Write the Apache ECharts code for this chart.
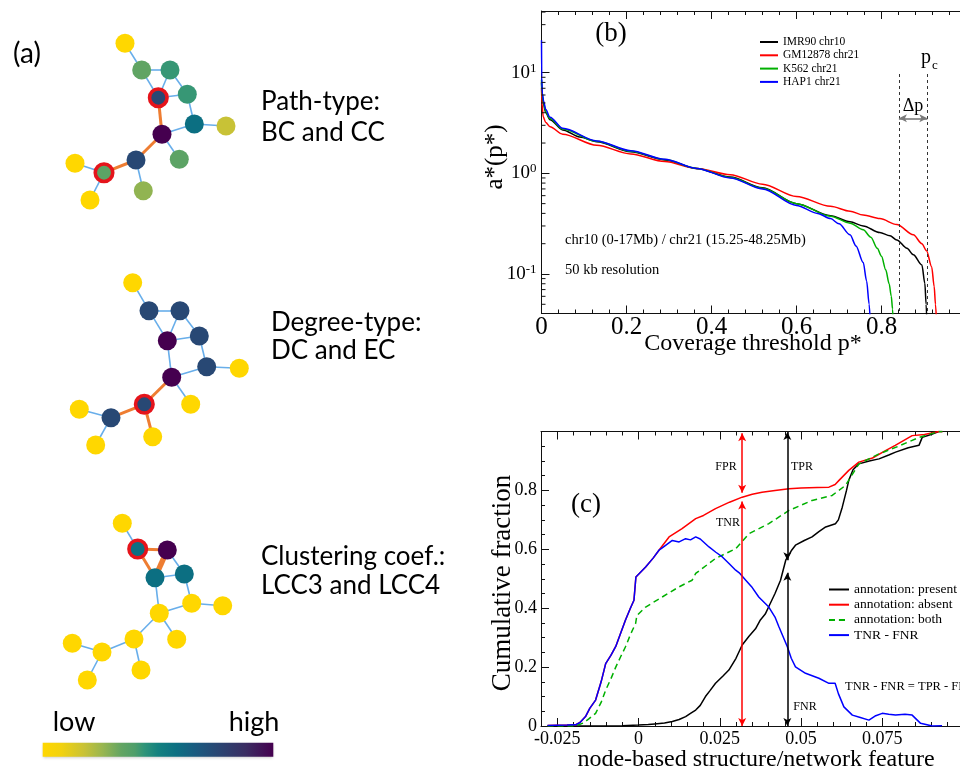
<!DOCTYPE html>
<html><head><meta charset="utf-8">
<script src="https://cdn.jsdelivr.net/npm/echarts@6/dist/echarts.min.js"></script>
<style>html,body{margin:0;padding:0;background:#fff}#c{width:960px;height:772px}</style>
</head><body><div id="c"></div>
<script>
// ---------- colour map (low -> high) ----------
const cmapStops  = [0, 0.08, 0.18, 0.26, 0.34, 0.40, 0.44, 0.50, 0.58, 0.66, 0.75, 0.88, 1];
const cmapColors = ['#FFD700','#F2D20E','#C8C236','#98B650','#63A562','#4E9E6A','#2F9478','#13817F','#0C6F82','#195B80','#284874','#3A2D62','#45004F'];

// ---------- panel (a): network (shared topology) ----------
const netEdges = [[0,1],[1,2],[1,3],[2,3],[2,4],[3,4],[4,5],[5,6],[3,7],[7,5],[7,8],[7,9],[9,10],[9,13],[10,11],[10,12]];
const pathX = [125,141.7,170,158.3,187.3,194.3,226,162,179.3,136,104,75,90,143.3];
const pathY = [43.3,70,70,97.7,94.3,124,126,134.3,159.3,160,172.7,163.3,200,190.7];
const pathVal = [0,0.35,0.43,0.75,0.43,0.58,0.18,1,0.36,0.75,0.36,0,0,0.27];
const pathRing = [3,10];
const pathHot = [[3,7],[7,9],[9,10]];
const degX = [132.7,149,180,167.3,199.3,206.7,239.3,171.7,190.7,144.3,111,79.3,95.7,152.7];
const degY = [282.7,310.7,310.7,340.7,336,366.7,368.3,377.3,404.3,404.3,417.7,409.3,445,436.7];
const degVal = [0,0.75,0.75,1,0.75,0.75,0,1,0,0.75,0.75,0,0,0];
const degRing = [9];
const degHot = [[7,9],[9,10],[9,13]];
const cluX = [122.3,137.7,167.3,155,184.3,191.7,222.7,159.3,176.7,134,102,72.3,87.3,141];
const cluY = [523.3,549,550,577.7,574,603.3,605.7,613.3,639.3,639,652,643.3,680,670];
const cluVal = [0,0.58,1,0.58,0.58,0,0,0,0,0,0,0,0,0];
const cluRing = [1];
const cluHot = [[1,2],[1,3],[2,3]];
const cluHotWide = [[2,3]];

// ---------- panel (b): a*(p*) vs coverage threshold ----------
const imrP = [0,0.001,0.004,0.01,0.02,0.05,0.09,0.13,0.21,0.29,0.365,0.444,0.52,0.6,0.68,0.726,0.757,0.796,0.82,0.836,0.86,0.875,0.895,0.902,0.905,0.907];
const imrA = [8.0,6.0,5.0,4.0,3.4,2.7,2.3,2.06,1.64,1.36,1.12,0.92,0.72,0.5,0.38,0.33,0.30,0.258,0.24,0.218,0.18,0.155,0.123,0.081,0.05,0.03];
const gmP  = [0,0.001,0.004,0.01,0.02,0.05,0.13,0.21,0.29,0.365,0.444,0.52,0.6,0.68,0.726,0.757,0.796,0.836,0.875,0.895,0.906,0.918,0.924,0.927,0.93];
const gmA  = [7.0,5.0,3.65,3.2,2.9,2.45,1.9,1.56,1.31,1.12,0.97,0.78,0.59,0.47,0.42,0.385,0.355,0.31,0.245,0.2,0.17,0.118,0.075,0.05,0.03];
const kP   = [0,0.001,0.004,0.01,0.02,0.05,0.13,0.21,0.29,0.365,0.444,0.52,0.6,0.68,0.726,0.757,0.775,0.79,0.80,0.81,0.818,0.823,0.826,0.828];
const kA   = [8.5,6.5,5.2,4.1,3.5,2.75,2.08,1.66,1.37,1.12,0.91,0.71,0.5,0.375,0.32,0.275,0.232,0.18,0.15,0.11,0.08,0.06,0.045,0.03];
const hapP = [0,0.0005,0.002,0.005,0.01,0.02,0.05,0.13,0.21,0.29,0.365,0.444,0.52,0.6,0.65,0.68,0.70,0.726,0.74,0.757,0.765,0.771,0.774];
const hapA = [21,9,6.2,5.2,4.3,3.6,2.8,2.1,1.68,1.38,1.12,0.9,0.7,0.48,0.40,0.355,0.315,0.245,0.19,0.13,0.085,0.05,0.03];
const bNames = ['IMR90 chr10','GM12878 chr21','K562 chr21','HAP1 chr21'];
const bMinorY = [0.05,0.06,0.07,0.08,0.09,0.2,0.3,0.4,0.5,0.6,0.7,0.8,0.9,2,3,4,5,6,7,8,9,20,30,40];
const dashX = [0.841, 0.9078];
const dashTop = 9.7;
const deltaY = 3.52;

// ---------- panel (c): cumulative fractions ----------
const presX = [-0.028,-0.02,-0.01,-0.005,0,0.003,0.005,0.008,0.0104,0.0125,0.0145,0.016,0.0176,0.019,0.0206,0.022,0.0237,0.026,0.0278,0.03,0.0319,0.034,0.036,0.0375,0.039,0.0405,0.042,0.0437,0.0453,0.047,0.0483,0.051,0.0534,0.0555,0.0576,0.0606,0.0615,0.0627,0.064,0.0647,0.066,0.0678,0.071,0.074,0.077,0.0791,0.083,0.0863,0.0873,0.09,0.0924,0.0935];
const presY = [0,0,0,0.001,0.003,0.005,0.007,0.01,0.015,0.022,0.032,0.043,0.054,0.07,0.10,0.12,0.145,0.17,0.19,0.23,0.275,0.305,0.33,0.36,0.38,0.415,0.45,0.495,0.563,0.595,0.614,0.63,0.642,0.66,0.676,0.687,0.70,0.743,0.80,0.834,0.87,0.89,0.90,0.907,0.92,0.93,0.945,0.953,0.98,0.99,1.0,1.0];
const absX = [-0.028,-0.022,-0.0194,-0.018,-0.0163,-0.015,-0.0132,-0.0115,-0.0101,-0.0085,-0.007,-0.0055,-0.004,-0.0025,-0.0014,-0.0009,-0.0008,0.0022,0.0045,0.0063,0.0094,0.0134,0.0176,0.02,0.0237,0.028,0.0319,0.035,0.038,0.042,0.0463,0.05,0.055,0.0586,0.0605,0.0617,0.0647,0.0678,0.072,0.076,0.079,0.0842,0.088,0.0924,0.0935];
const absY = [0.002,0.003,0.004,0.012,0.032,0.06,0.088,0.15,0.212,0.24,0.27,0.315,0.36,0.40,0.427,0.43,0.506,0.54,0.57,0.597,0.642,0.67,0.704,0.715,0.738,0.76,0.777,0.787,0.794,0.80,0.806,0.808,0.81,0.811,0.82,0.834,0.868,0.896,0.91,0.935,0.953,0.986,0.99,1.0,1.0];
const bothX = [-0.028,-0.0194,-0.017,-0.0152,-0.0132,-0.0115,-0.0101,-0.0085,-0.007,-0.0055,-0.004,-0.0025,-0.0009,-0.0005,0.0022,0.0073,0.0124,0.0165,0.0176,0.0237,0.0299,0.034,0.0401,0.0463,0.0534,0.0596,0.0637,0.0678,0.074,0.08,0.0863,0.0924,0.0935];
const bothY = [0,0,0.01,0.025,0.043,0.08,0.122,0.16,0.2,0.235,0.269,0.31,0.348,0.375,0.404,0.438,0.472,0.495,0.518,0.569,0.602,0.653,0.687,0.732,0.766,0.783,0.817,0.89,0.924,0.95,0.98,1.0,1.0];
const diffX = [-0.028,-0.022,-0.0194,-0.018,-0.0163,-0.015,-0.0132,-0.0115,-0.0101,-0.0085,-0.007,-0.0055,-0.004,-0.0025,-0.0014,-0.0009,-0.0008,0.0022,0.0045,0.0063,0.0073,0.0104,0.0125,0.0145,0.016,0.0176,0.019,0.0217,0.0238,0.0258,0.028,0.0299,0.031,0.033,0.035,0.037,0.038,0.0401,0.042,0.0432,0.0458,0.047,0.0483,0.0514,0.0555,0.0586,0.0605,0.0615,0.0632,0.0658,0.068,0.0709,0.073,0.075,0.077,0.0791,0.082,0.0842,0.0868,0.0904,0.0934];
const diffY = [0.002,0.003,0.004,0.012,0.032,0.06,0.088,0.15,0.212,0.24,0.27,0.315,0.36,0.40,0.427,0.43,0.506,0.54,0.57,0.597,0.605,0.63,0.625,0.636,0.632,0.642,0.635,0.608,0.59,0.574,0.55,0.529,0.52,0.495,0.47,0.438,0.427,0.404,0.37,0.337,0.269,0.23,0.201,0.179,0.162,0.145,0.145,0.11,0.065,0.037,0.03,0.02,0.035,0.043,0.04,0.037,0.04,0.037,0.009,0.0,0.001];
const cNames = ['annotation: present','annotation: absent','annotation: both','TNR - FNR'];
const cMajorX = [-0.025,0,0.025,0.05,0.075];
const fprX = 0.0319, fprSeg = [[0.994,0.792],[0.762,0.0]];
const tprX = 0.0458, tprSeg = [[0.998,0.563],[0.52,0.0]];

// ---------- helpers ----------
function hex2rgb(h){return [parseInt(h.substr(1,2),16),parseInt(h.substr(3,2),16),parseInt(h.substr(5,2),16)];}
function cmap(t){
  for(let i=0;i<cmapStops.length-1;i++){
    if(t<=cmapStops[i+1]){
      const f=(t-cmapStops[i])/(cmapStops[i+1]-cmapStops[i]);
      const a=hex2rgb(cmapColors[i]), b=hex2rgb(cmapColors[i+1]);
      return 'rgb('+a.map((v,k)=>Math.round(v+(b[k]-v)*f)).join(',')+')';
    }
  }
  return cmapColors[cmapColors.length-1];
}
const has=(list,a,b)=>list.some(e=>(e[0]===a&&e[1]===b)||(e[0]===b&&e[1]===a));
function netSeries(xs,ys,vals,ring,hot,wide){
  return {
    type:'graph', coordinateSystem:'cartesian2d', xAxisIndex:0, yAxisIndex:0,
    symbol:'circle', silent:true, animation:false, roam:false,
    label:{show:false}, emphasis:{disabled:true},
    data: xs.map((x,i)=>({value:[x,ys[i]], symbolSize: ring.includes(i)?17.5:19,
      itemStyle:{color:cmap(vals[i]), borderColor: ring.includes(i)?'#E5141B':'rgba(0,0,0,0)', borderWidth: ring.includes(i)?3.6:0}})),
    links: netEdges.map(([a,b])=>{const h=has(hot,a,b), w=has(wide||[],a,b);
      return {source:a,target:b,lineStyle:{color:h?'#EE7D32':'#68AEEA',width:w?5.5:(h?3:1.6),opacity:1,curveness:0}};})
  };
}
const zip=(xs,ys)=>xs.map((x,i)=>[x,ys[i]]);
const SERIF='"Liberation Serif", "Times New Roman", serif';
const SANS='Lato, "Open Sans", sans-serif';
const tickCol='#111';

function txt(x,y,text,font,align,extra){
  return Object.assign({type:'text',x:x,y:y,silent:true,z:100,style:{text:text,font:font,fill:'#000',
    align:align||'left',verticalAlign:'middle',textAlign:align||'left',textVerticalAlign:'middle'}},extra||{});
}

const chart = echarts.init(document.getElementById('c'), null, {renderer:'canvas'});

const baseX = (extra)=>Object.assign({
  type:'value', axisLine:{show:true,onZero:false,lineStyle:{color:tickCol,width:1}},
  axisTick:{show:true,inside:true,length:8,lineStyle:{color:tickCol}},
  splitLine:{show:false}, axisLabel:{show:false}
}, extra);

const option = {
  animation:false,
  backgroundColor:'#fff',
  grid:[
    {left:0, top:0, width:300, height:772, outerBoundsMode:'none'},
    {left:541.5, top:11, width:425, height:302.5, outerBoundsMode:'none'},
    {left:541, top:431.5, width:422.5, height:294.5, outerBoundsMode:'none'}
  ],
  xAxis:[
    {gridIndex:0, type:'value', min:0, max:300, show:false},
    baseX({gridIndex:1, position:'bottom', min:0, max:1, interval:0.2,
      minorTick:{show:true, splitNumber:5, length:4, lineStyle:{color:tickCol}},
      axisLabel:{show:true, margin:1, showMaxLabel:false, fontFamily:SERIF, fontSize:25, color:'#000'}}),
    baseX({gridIndex:1, position:'top', min:0, max:1, interval:0.2,
      minorTick:{show:true, splitNumber:5, length:4, lineStyle:{color:tickCol}}}),
    baseX({gridIndex:2, position:'bottom', min:-0.03, max:0.1, interval:0.005,
      axisTick:{show:true,inside:true,length:4,lineStyle:{color:tickCol}},
      axisLabel:{show:true, margin:4, fontFamily:SERIF, fontSize:18, color:'#000',
        formatter:function(v){const k=v/0.025; if(Math.abs(k-Math.round(k))>1e-6||v>0.09) return ''; return String(+(Math.round(k)*0.025).toFixed(3));}}}),
    baseX({gridIndex:2, position:'bottom', min:-0.03, max:0.1, axisLine:{show:false,onZero:false},
      axisTick:{show:true,inside:true,length:8,customValues:cMajorX,lineStyle:{color:tickCol}}}),
    baseX({gridIndex:2, position:'top', min:-0.03, max:0.1, interval:0.005,
      axisTick:{show:true,inside:true,length:4,lineStyle:{color:tickCol}}}),
    baseX({gridIndex:2, position:'top', min:-0.03, max:0.1, axisLine:{show:false,onZero:false},
      axisTick:{show:true,inside:true,length:8,customValues:cMajorX,lineStyle:{color:tickCol}}})
  ],
  yAxis:[
    {gridIndex:0, type:'value', min:0, max:772, inverse:true, show:false},
    {gridIndex:1, type:'log', logBase:10, min:0.0405, max:41, position:'left',
      axisLine:{show:true,onZero:false,lineStyle:{color:tickCol}},
      axisTick:{show:true,inside:true,length:8,lineStyle:{color:tickCol}},
      splitLine:{show:false},
      axisLabel:{show:true, margin:5, fontFamily:SERIF, fontSize:19, color:'#000',
        formatter:function(v){const l=Math.log10(v), e=Math.round(l); if(Math.abs(l-e)>1e-6) return ''; return '10{s|'+e+'}';},
        rich:{s:{fontFamily:SERIF,fontSize:13,color:'#000',verticalAlign:'top',padding:[0,0,9,0]}}}},
    {gridIndex:2, type:'value', min:0, max:1, interval:0.2, position:'left',
      axisLine:{show:true,onZero:false,lineStyle:{color:tickCol}},
      axisTick:{show:true,inside:true,length:8,lineStyle:{color:tickCol}},
      minorTick:{show:true,splitNumber:4,length:4,lineStyle:{color:tickCol}},
      splitLine:{show:false},
      axisLabel:{show:true, margin:4, showMaxLabel:false, fontFamily:SERIF, fontSize:18, color:'#000'}}
  ],
  legend:[
    {data:bNames, orient:'vertical', left:759, top:36, itemWidth:18, itemHeight:1, itemGap:1.3, padding:0,
      selectedMode:false, textStyle:{fontFamily:SERIF, fontSize:11.5, color:'#000'}},
    {data:cNames, orient:'vertical', left:828, top:582.5, itemWidth:20, itemHeight:1, itemGap:1.2, padding:0,
      selectedMode:false, textStyle:{fontFamily:SERIF, fontSize:13.5, color:'#000'}}
  ],
  series:[
    netSeries(pathX,pathY,pathVal,pathRing,pathHot),
    netSeries(degX,degY,degVal,degRing,degHot),
    netSeries(cluX,cluY,cluVal,cluRing,cluHot,cluHotWide),
    // minor log ticks on the a*(p*) axis
    {type:'custom', name:'minorY', xAxisIndex:1, yAxisIndex:1, silent:true, clip:false, z:5,
      data: bMinorY.map(v=>[0,v]),
      renderItem:function(params,api){const p=api.coord([api.value(0),api.value(1)]);
        return {type:'line', shape:{x1:p[0],y1:p[1],x2:p[0]+4,y2:p[1]}, style:{stroke:tickCol,lineWidth:1}};}},
    {name:bNames[0], type:'line', xAxisIndex:1, yAxisIndex:1, data:zip(imrP,imrA), symbol:'none', smooth:0.3, smoothMonotone:'x',
      lineStyle:{color:'#000',width:1.5}, itemStyle:{color:'#000'},
      markLine:{silent:true, symbol:['none','none'], label:{show:false},
        lineStyle:{color:'#333',type:[3,3],width:1},
        data:[
          [{coord:[dashX[0],dashTop]},{coord:[dashX[0],0.0405]}],
          [{coord:[dashX[1],dashTop]},{coord:[dashX[1],0.0405]}],
          [{coord:[dashX[0],deltaY],symbol:'arrow',symbolSize:[6,8],lineStyle:{color:'#7a7a7a',type:'solid',width:1.6}},
           {coord:[dashX[1],deltaY],symbol:'arrow',symbolSize:[6,8]}]
        ]}},
    {name:bNames[1], type:'line', xAxisIndex:1, yAxisIndex:1, data:zip(gmP,gmA), symbol:'none', smooth:0.3, smoothMonotone:'x',
      lineStyle:{color:'#ff0000',width:1.5}, itemStyle:{color:'#ff0000'}},
    {name:bNames[2], type:'line', xAxisIndex:1, yAxisIndex:1, data:zip(kP,kA), symbol:'none', smooth:0.3, smoothMonotone:'x',
      lineStyle:{color:'#00b000',width:1.5}, itemStyle:{color:'#00b000'}},
    {name:bNames[3], type:'line', xAxisIndex:1, yAxisIndex:1, data:zip(hapP,hapA), symbol:'none', smooth:0.3, smoothMonotone:'x',
      lineStyle:{color:'#0000ff',width:1.5}, itemStyle:{color:'#0000ff'}},
    {name:cNames[0], type:'line', xAxisIndex:3, yAxisIndex:2, data:zip(presX,presY), symbol:'none',
      lineStyle:{color:'#000',width:1.5}, itemStyle:{color:'#000'},
      markLine:{silent:true, symbol:['arrow','arrow'], symbolSize:[6,8], label:{show:false},
        data:[
          [{coord:[fprX,fprSeg[0][0]],lineStyle:{color:'#ff0000',width:1.5,type:'solid'}},{coord:[fprX,fprSeg[0][1]]}],
          [{coord:[fprX,fprSeg[1][0]],lineStyle:{color:'#ff0000',width:1.5,type:'solid'}},{coord:[fprX,fprSeg[1][1]]}],
          [{coord:[tprX,tprSeg[0][0]],lineStyle:{color:'#000',width:1.5,type:'solid'}},{coord:[tprX,tprSeg[0][1]]}],
          [{coord:[tprX,tprSeg[1][0]],lineStyle:{color:'#000',width:1.5,type:'solid'}},{coord:[tprX,tprSeg[1][1]]}]
        ]}},
    {name:cNames[1], type:'line', xAxisIndex:3, yAxisIndex:2, data:zip(absX,absY), symbol:'none',
      lineStyle:{color:'#ff0000',width:1.5}, itemStyle:{color:'#ff0000'}},
    {name:cNames[2], type:'line', xAxisIndex:3, yAxisIndex:2, data:zip(bothX,bothY), symbol:'none',
      lineStyle:{color:'#00b000',width:1.5,type:[6,4]}, itemStyle:{color:'#00b000'}},
    {name:cNames[3], type:'line', xAxisIndex:3, yAxisIndex:2, data:zip(diffX,diffY), symbol:'none',
      lineStyle:{color:'#0000ff',width:1.5}, itemStyle:{color:'#0000ff'}}
  ],
  graphic:[
    // panel (a)
    txt(27,54,'(a)','28px '+SANS,'center'),
    txt(261,102,'Path-type:','26px '+SANS),
    txt(261,133,'BC and CC','26px '+SANS),
    txt(271,323,'Degree-type:','26px '+SANS),
    txt(271,351,'DC and EC','26px '+SANS),
    txt(261,557,'Clustering coef.:','26px '+SANS),
    txt(261,586,'LCC3 and LCC4','26px '+SANS),
    txt(74,722,'low','27px '+SANS,'center'),
    txt(254,722,'high','27px '+SANS,'center'),
    {type:'rect', silent:true, shape:{x:42.7,y:742.7,width:230.6,height:14},
      style:{fill:new echarts.graphic.LinearGradient(0,0,1,0,cmapStops.map((s,i)=>({offset:s,color:cmapColors[i]}))),
        shadowBlur:3, shadowColor:'rgba(0,0,0,0.25)', shadowOffsetY:1}},
    // panel (b)
    txt(611,34,'(b)','27px '+SERIF,'center'),
    txt(926,58,'p','20px '+SERIF,'center'),
    txt(935,66,'c','13px '+SERIF,'center'),
    txt(913,106,'\u0394p','18px '+SERIF,'center'),
    txt(565,240,'chr10 (0-17Mb) / chr21 (15.25-48.25Mb)','14.5px '+SERIF),
    txt(565,270,'50 kb resolution','14.5px '+SERIF),
    txt(495,157,'a*(p*)','25px '+SERIF,'center',{rotation:Math.PI/2}),
    txt(753,344,'Coverage threshold p*','24px '+SERIF,'center'),
    // panel (c)
    txt(586,505,'(c)','27px '+SERIF,'center'),
    txt(726,467,'FPR','12px '+SERIF,'center'),
    txt(728,523,'TNR','12px '+SERIF,'center'),
    txt(802,467,'TPR','12px '+SERIF,'center'),
    txt(805,707,'FNR','12px '+SERIF,'center'),
    txt(845,687,'TNR - FNR = TPR - FPR','12.5px '+SERIF),
    txt(503,583,'Cumulative fraction','27px '+SERIF,'center',{rotation:Math.PI/2}),
    txt(756,760,'node-based structure/network feature','24px '+SERIF,'center')
  ]
};
chart.setOption(option);
</script>
</body></html>
